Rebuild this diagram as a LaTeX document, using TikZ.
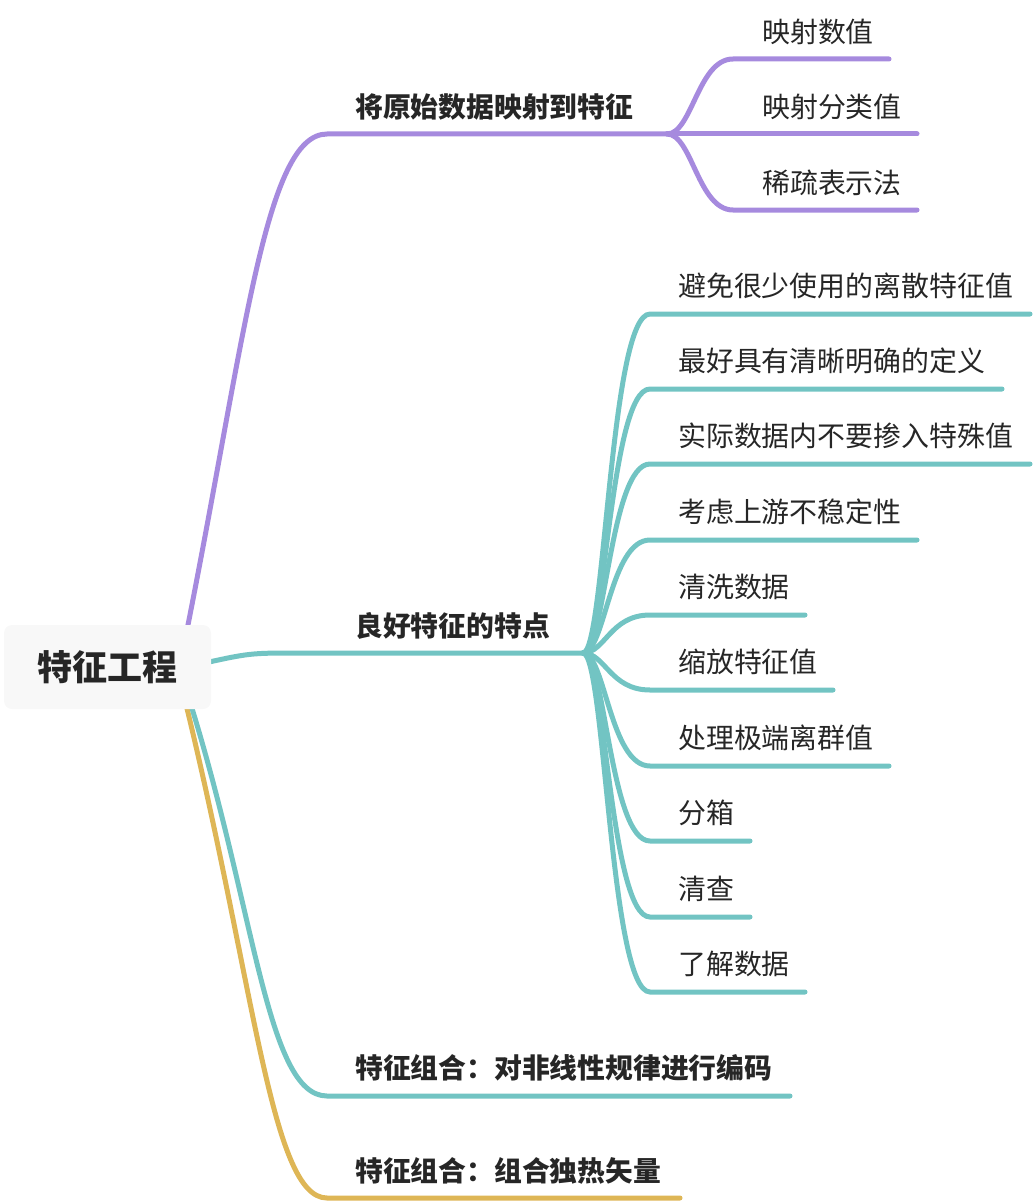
\documentclass[tikz,border=0pt]{standalone}
\usepackage{fontspec}
\setmainfont{Noto Sans CJK SC}
\usetikzlibrary{backgrounds}
\definecolor{purpleline}{HTML}{A68ADE}
\definecolor{tealline}{HTML}{72C4C3}
\definecolor{goldline}{HTML}{DEB656}
\definecolor{rootfill}{HTML}{F8F8F8}
\definecolor{textdark}{HTML}{262626}
\begin{document}
\begin{tikzpicture}[x=1pt, y=-1pt,
  rootbox/.style={fill=rootfill, rounded corners=8pt, minimum width=207pt, minimum height=84pt, inner sep=0pt, text=textdark, font=\fontsize{35}{40}\selectfont\bfseries},
  topic/.style={anchor=west, inner sep=0pt, text=textdark, font=\fontsize{27.8}{32}\selectfont\bfseries},
  leaf/.style={anchor=west, inner sep=0pt, text=textdark, font=\fontsize{27.9}{32}\selectfont},
  branch/.style={line width=5pt, line cap=round}]
\useasboundingbox (0,0) rectangle (1034,1204);
\node[rootbox] (eng) at (107.5,667) {特征工程};
\node[topic] (map) at (355,107) {将原始数据映射到特征};
\node[topic] (good) at (355,626) {良好特征的特点};
\node[topic] (cross) at (355,1068) {特征组合：对非线性规律进行编码};
\node[topic] (onehot) at (355,1171) {特征组合：组合独热矢量};
\coordinate (eng-p) at (185,640);
\coordinate (eng-t) at (200,664);
\coordinate (eng-c) at (183,680);
\coordinate (eng-o) at (180,680);
\coordinate (map-s) at (327,134);
\coordinate (map-f) at (667,134);
\coordinate (good-s) at (300,653);
\coordinate (good-f) at (583,653);
\coordinate (cross-s) at (327,1096);
\coordinate (cross-e) at (790,1096);
\coordinate (onehot-s) at (327,1198);
\coordinate (onehot-e) at (680,1198);
\begin{scope}[on background layer]
\draw[branch, goldline] (eng-o) .. controls (255,980) and (270,1198) .. (onehot-s) -- (onehot-e);
\draw[branch, tealline] (eng-c) .. controls (255,900) and (265,1096) .. (cross-s) -- (cross-e);
\draw[branch, tealline] (eng-t) .. controls (250,653) .. (good-s) -- (good-f);
\draw[branch, purpleline] (eng-p) .. controls (245,340) and (265,134) .. (map-s) -- (map-f);
\end{scope}
\foreach \i/\y/\xe/\txt in {1/59/889/映射数值, 2/134/917/映射分类值, 3/210/917/稀疏表示法} {
  \coordinate (map\i-s) at (733,\y);
  \coordinate (map\i-e) at (\xe,\y);
  \node[leaf] (map\i) at (762,\y-27) {\txt};
  \draw[branch, purpleline] (map-f) .. controls +(25,0) and +(-35,0) .. (map\i-s) -- (map\i-e);
}
\foreach \i/\y/\xe/\txt in {1/314/1030/避免很少使用的离散特征值, 2/389/1002/最好具有清晰明确的定义,
    3/464/1030/实际数据内不要掺入特殊值, 4/540/917/考虑上游不稳定性, 5/615/805/清洗数据,
    6/690/833/缩放特征值, 7/766/889/处理极端离群值, 8/841/750/分箱, 9/917/750/清查, 10/992/805/了解数据} {
  \coordinate (good\i-s) at (650,\y);
  \coordinate (good\i-e) at (\xe,\y);
  \node[leaf] (good\i) at (678,\y-28) {\txt};
  \draw[branch, tealline] (good-f) .. controls +(22,0) and +(-40,0) .. (good\i-s) -- (good\i-e);
}
\end{tikzpicture}
\end{document}
